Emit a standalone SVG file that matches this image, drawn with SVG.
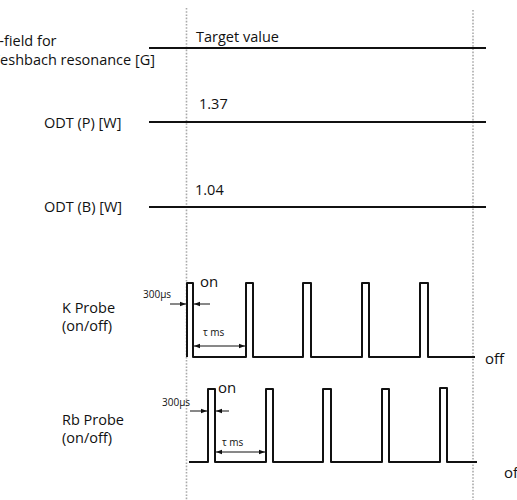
<svg xmlns="http://www.w3.org/2000/svg" width="517" height="500" viewBox="0 0 517 500">
<style>
text{font-family:"Open Sans","Liberation Sans",sans-serif;fill:#111}
.lbl{font-size:14.5px}
.sm{font-size:10px}
.big{font-size:15px}
.sig{fill:none;stroke:#111;stroke-width:2;stroke-linejoin:round}
.dot{fill:none;stroke:#aaa;stroke-width:1.6;stroke-dasharray:1.6,1.6}
.arr{fill:none;stroke:#111;stroke-width:1}
</style>
<defs>
<marker id="ah" viewBox="0 0 8 8" refX="8" refY="4" markerWidth="6" markerHeight="6" orient="auto-start-reverse" markerUnits="userSpaceOnUse">
<path d="M0,1 L8,4 L0,7 Z" fill="#111"/>
</marker>
</defs>
<rect width="517" height="500" fill="#fff"/>
<g id="guides">
<line class="dot" x1="186.5" y1="8" x2="186.5" y2="500"/>
<line class="dot" x1="473" y1="10" x2="473" y2="500"/>
</g>
<g id="bfield">
<text class="lbl" x="-10" y="46">B-field for</text>
<text class="lbl" x="155" y="65" text-anchor="end">Feshbach resonance [G]</text>
<line class="sig" x1="149" y1="48" x2="486" y2="48"/>
<text class="lbl" x="196" y="42">Target value</text>
</g>
<g id="odtp">
<text class="lbl" x="44" y="128">ODT (P) [W]</text>
<line class="sig" x1="149" y1="122" x2="486" y2="122"/>
<text class="lbl" x="199" y="109">1.37</text>
</g>
<g id="odtb">
<text class="lbl" x="44" y="212">ODT (B) [W]</text>
<line class="sig" x1="149" y1="207" x2="486" y2="207"/>
<text class="lbl" x="195" y="195">1.04</text>
</g>
<g id="kprobe">
<text class="lbl" x="62" y="313">K Probe</text>
<text class="lbl" x="62" y="331">(on/off)</text>
<path class="sig" d="M187,357 V283 H193 V357 H246 V283 H253 V357 H303 V283 H311 V357 H362 V283 H369 V357 H420 V283 H428 V357 H475"/>
<text class="big" x="200" y="287">on</text>
<text class="big" x="485" y="364">off</text>
<text class="sm" x="143" y="298">300μs</text>
<text class="sm" x="203" y="336">τ ms</text>
</g>
<g id="rbprobe">
<text class="lbl" x="62" y="425">Rb Probe</text>
<text class="lbl" x="62" y="443">(on/off)</text>
<path class="sig" d="M189,462 H208 V389 H215 V462 H266 V389 H273 V462 H323 V389 H331 V462 H382 V389 H389 V462 H440 V388 H447 V462 H477"/>
<text class="big" x="218" y="393">on</text>
<text class="big" x="504" y="478">off</text>
<text class="sm" x="162" y="406">300μs</text>
<text class="sm" x="222" y="446">τ ms</text>
</g>
<g id="connectors">
<line class="arr" x1="170" y1="304" x2="186" y2="304" marker-end="url(#ah)"/>
<line class="arr" x1="210" y1="304" x2="194" y2="304" marker-end="url(#ah)"/>
<line class="arr" x1="194" y1="346" x2="245" y2="346" marker-start="url(#ah)" marker-end="url(#ah)"/>
<line class="arr" x1="190" y1="411" x2="207" y2="411" marker-end="url(#ah)"/>
<line class="arr" x1="229" y1="411" x2="216" y2="411" marker-end="url(#ah)"/>
<line class="arr" x1="216" y1="452" x2="265" y2="452" marker-start="url(#ah)" marker-end="url(#ah)"/>
</g>
</svg>
